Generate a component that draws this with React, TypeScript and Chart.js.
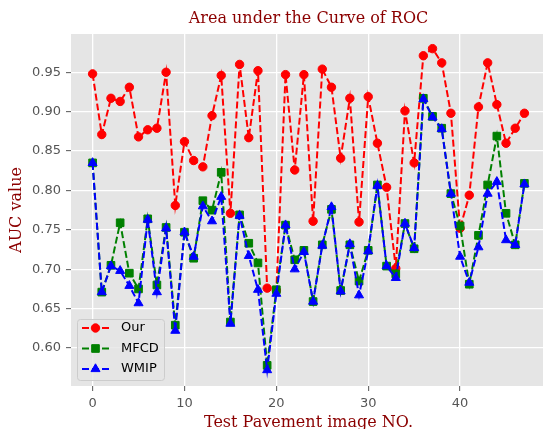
import React, { useEffect, useRef } from 'react';
import { Chart, registerables } from 'chart.js';

Chart.register(...registerables);

const imageNo = [0, 1, 2, 3, 4, 5, 6, 7, 8, 9, 10, 11, 12, 13, 14, 15, 16, 17, 18, 19, 20, 21, 22, 23, 24, 25, 26, 27, 28, 29, 30, 31, 32, 33, 34, 35, 36, 37, 38, 39, 40, 41, 42, 43, 44, 45, 46, 47];

const ourAUC = [0.948, 0.871, 0.917, 0.913, 0.931, 0.868, 0.877, 0.879, 0.950, 0.781, 0.862, 0.838, 0.830, 0.895, 0.946, 0.771, 0.960, 0.867, 0.952, 0.676, 0.673, 0.947, 0.826, 0.947, 0.761, 0.954, 0.931, 0.841, 0.917, 0.760, 0.919, 0.860, 0.804, 0.701, 0.901, 0.835, 0.971, 0.980, 0.962, 0.898, 0.752, 0.794, 0.906, 0.962, 0.909, 0.860, 0.879, 0.898];

const mfcdAUC = [0.835, 0.671, 0.705, 0.759, 0.695, 0.675, 0.764, 0.680, 0.753, 0.629, 0.747, 0.714, 0.787, 0.775, 0.823, 0.633, 0.769, 0.733, 0.708, 0.578, 0.674, 0.756, 0.712, 0.724, 0.659, 0.731, 0.776, 0.673, 0.731, 0.685, 0.724, 0.807, 0.704, 0.694, 0.758, 0.726, 0.917, 0.894, 0.879, 0.796, 0.755, 0.681, 0.743, 0.807, 0.869, 0.771, 0.731, 0.809];

const wmipAUC = [0.835, 0.671, 0.704, 0.698, 0.679, 0.657, 0.763, 0.671, 0.752, 0.622, 0.747, 0.716, 0.780, 0.761, 0.792, 0.631, 0.768, 0.717, 0.674, 0.572, 0.669, 0.756, 0.700, 0.722, 0.659, 0.730, 0.779, 0.672, 0.732, 0.667, 0.723, 0.806, 0.704, 0.689, 0.758, 0.727, 0.916, 0.893, 0.878, 0.796, 0.716, 0.683, 0.728, 0.796, 0.811, 0.737, 0.731, 0.808];

const xTicks = [0, 10, 20, 30, 40];
const yTicks = [0.60, 0.65, 0.70, 0.75, 0.80, 0.85, 0.90, 0.95];

const seriesNames = ['Our', 'MFCD', 'WMIP'];
const seriesColors = ['#ff0000', '#008000', '#0000ff'];
const seriesMarkers = ['circle', 'rect', 'triangle'];

const chartTitle = 'Area under the Curve of ROC';
const xTitle = 'Test Pavement image NO.';
const yTitle = 'AUC value';

const TITLE_RED = '#8b0000';

function drawMarker(ctx: CanvasRenderingContext2D, style: string, x: number, y: number, color: string) {
  ctx.save();
  ctx.fillStyle = color;
  ctx.strokeStyle = color;
  ctx.lineWidth = 1;
  ctx.setLineDash([]);
  ctx.beginPath();
  if (style === 'circle') {
    ctx.arc(x, y, 4.2, 0, Math.PI * 2);
  } else if (style === 'rect') {
    const s = 5.4 * Math.SQRT1_2;
    ctx.rect(x - s, y - s, 2 * s, 2 * s);
  } else {
    const r = 5.2;
    ctx.moveTo(x, y - r);
    ctx.lineTo(x + r * Math.sin((2 * Math.PI) / 3), y - r * Math.cos((2 * Math.PI) / 3));
    ctx.lineTo(x + r * Math.sin((4 * Math.PI) / 3), y - r * Math.cos((4 * Math.PI) / 3));
    ctx.closePath();
  }
  ctx.fill();
  ctx.stroke();
  ctx.restore();
}

const decorPlugin = {
  id: 'decor',
  beforeDraw(chart: any) {
    const { ctx, chartArea } = chart;
    ctx.save();
    ctx.fillStyle = '#e5e5e5';
    ctx.fillRect(chartArea.left, chartArea.top, chartArea.right - chartArea.left, chartArea.bottom - chartArea.top);
    ctx.restore();
  },
  afterDraw(chart: any) {
    const { ctx, chartArea } = chart;
    // title
    ctx.save();
    ctx.fillStyle = TITLE_RED;
    ctx.font = '16px "DejaVu Serif"';
    ctx.textAlign = 'center';
    ctx.textBaseline = 'middle';
    ctx.fillText(chartTitle, (chartArea.left + chartArea.right) / 2, 19);
    ctx.restore();

    // legend
    const bx = 77.5, by = 319.5, bw = 87, bh = 61, rad = 3;
    ctx.save();
    ctx.beginPath();
    ctx.moveTo(bx + rad, by);
    ctx.lineTo(bx + bw - rad, by);
    ctx.arcTo(bx + bw, by, bx + bw, by + rad, rad);
    ctx.lineTo(bx + bw, by + bh - rad);
    ctx.arcTo(bx + bw, by + bh, bx + bw - rad, by + bh, rad);
    ctx.lineTo(bx + rad, by + bh);
    ctx.arcTo(bx, by + bh, bx, by + bh - rad, rad);
    ctx.lineTo(bx, by + rad);
    ctx.arcTo(bx, by, bx + rad, by, rad);
    ctx.closePath();
    ctx.fillStyle = 'rgba(229,229,229,0.8)';
    ctx.fill();
    ctx.strokeStyle = '#cccccc';
    ctx.lineWidth = 1;
    ctx.stroke();
    ctx.restore();

    const rows = [328, 348.5, 369];
    seriesNames.forEach((name, i) => {
      const y = rows[i];
      ctx.save();
      ctx.strokeStyle = seriesColors[i];
      ctx.lineWidth = 2;
      ctx.setLineDash([7, 3]);
      ctx.beginPath();
      ctx.moveTo(82, y);
      ctx.lineTo(109, y);
      ctx.stroke();
      ctx.restore();
      drawMarker(ctx, seriesMarkers[i], 95.5, y, seriesColors[i]);
      ctx.save();
      ctx.fillStyle = '#000000';
      ctx.font = '13px "DejaVu Sans"';
      ctx.textAlign = 'left';
      ctx.textBaseline = 'middle';
      ctx.fillText(name, 121, y);
      ctx.restore();
    });
  },
};

export default function App() {
  const canvasRef = useRef<HTMLCanvasElement | null>(null);

  useEffect(() => {
    const canvas = canvasRef.current;
    if (!canvas) return;
    const seriesValues = [ourAUC, mfcdAUC, wmipAUC];
    const radii = [4.2, 5.4, 5.2];
    const chart = new Chart(canvas, {
      type: 'line',
      data: {
        datasets: seriesNames.map((name, i) => ({
          label: name,
          data: imageNo.map((x, j) => ({ x, y: seriesValues[i][j] })),
          borderColor: seriesColors[i],
          backgroundColor: seriesColors[i],
          pointBackgroundColor: seriesColors[i],
          pointBorderColor: seriesColors[i],
          pointBorderWidth: 1,
          pointStyle: seriesMarkers[i] as any,
          pointRadius: radii[i],
          borderWidth: 2,
          borderDash: [7, 3],
          tension: 0,
          fill: false,
          order: 3 - i,
        })),
      },
      options: {
        responsive: false,
        animation: false,
        devicePixelRatio: 1,
        layout: { autoPadding: false, padding: { top: 34, left: 0, right: 0, bottom: 0 } },
        plugins: {
          legend: { display: false },
          tooltip: { enabled: false },
          title: { display: false },
        },
        scales: {
          x: {
            type: 'linear',
            min: -2.35,
            max: 49.35,
            afterBuildTicks: (s: any) => {
              s.ticks = xTicks.map((v) => ({ value: v }));
            },
            afterFit: (s: any) => {
              s.height = 46;
              s.paddingLeft = 0;
              s.paddingRight = 0;
            },
            ticks: {
              font: { family: 'DejaVu Sans', size: 13 },
              color: '#555555',
              padding: 5,
              maxRotation: 0,
              autoSkip: false,
              callback: (v: any) => String(v),
            },
            grid: { color: '#ffffff', lineWidth: 1.3, tickColor: '#555555', tickLength: 5, tickWidth: 1 },
            border: { display: false },
            title: {
              display: true,
              text: xTitle,
              color: TITLE_RED,
              font: { family: 'DejaVu Serif', size: 16, lineHeight: 1.2 },
              padding: { top: 0, bottom: 0 },
            },
          },
          y: {
            type: 'linear',
            min: 0.5518,
            max: 0.9986,
            afterBuildTicks: (s: any) => {
              s.ticks = yTicks.map((v) => ({ value: v }));
            },
            afterFit: (s: any) => {
              s.width = 71;
              s.paddingTop = 0;
              s.paddingBottom = 0;
            },
            ticks: {
              font: { family: 'DejaVu Sans', size: 13 },
              color: '#555555',
              padding: 5,
              callback: (v: any) => Number(v).toFixed(2),
            },
            grid: { color: '#ffffff', lineWidth: 1.3, tickColor: '#555555', tickLength: 5, tickWidth: 1 },
            border: { display: false },
            title: {
              display: true,
              text: yTitle,
              color: TITLE_RED,
              font: { family: 'DejaVu Serif', size: 16, lineHeight: 1.2 },
              padding: { top: 7, bottom: 0 },
            },
          },
        },
      },
      plugins: [decorPlugin],
    });
    return () => chart.destroy();
  }, []);

  return (
    <div style={{ position: 'fixed', left: 0, top: 0, width: 543, height: 429, overflow: 'hidden', background: '#ffffff' }}>
      <canvas ref={canvasRef} width={546} height={432} style={{ display: 'block', width: 546, height: 432 }} />
    </div>
  );
}
